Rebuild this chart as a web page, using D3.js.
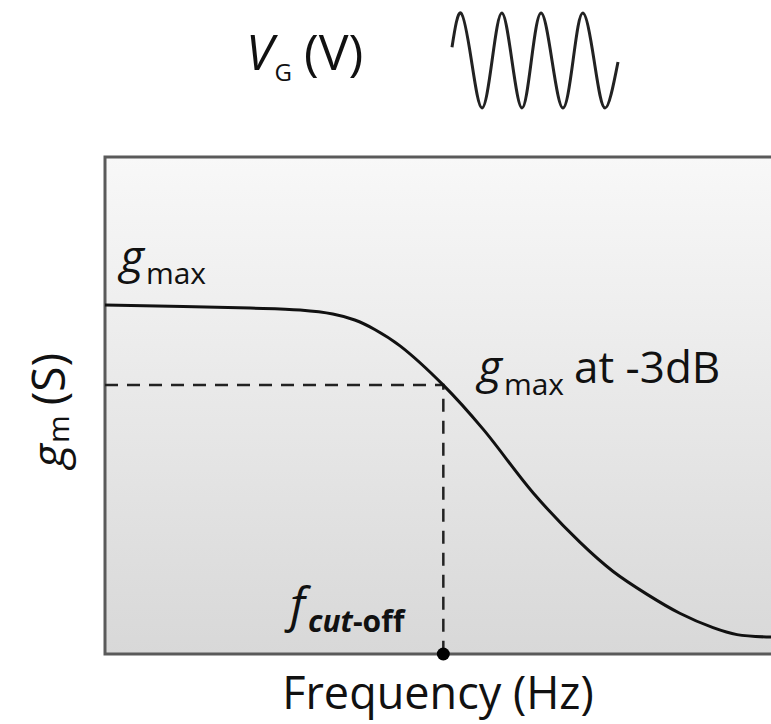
<!DOCTYPE html>
<html>
<head>
<meta charset="utf-8">
<script src="https://cdn.jsdelivr.net/npm/d3@7"></script>
<style>
  html, body { margin: 0; padding: 0; background: #fff; }
  svg { display: block; font-family: "Open Sans", "Noto Sans", sans-serif; }
</style>
</head>
<body>
<svg id="chart" width="771" height="724"></svg>
<script>
// ---- data (arbitrary units 0..100) ----
const freq = [0, 21.8, 29.3, 34.2, 37.5, 40.5, 44.3, 50.8, 56.8, 64.3, 71.3, 76.3, 81.4, 86.3, 91.3, 94.9, 100];
const gm   = [70.2, 69.6, 69.2, 68.4, 67.2, 65.3, 62.0, 54.1, 45.2, 32.4, 22.5, 16.6, 12.0, 8.2, 5.3, 3.9, 3.4];
const fCutoff = 50.8;
const gm3dB = 54.1;
// gate voltage sinusoid icon (periods, normalized amplitude)
const waveT = [0, 0.22, 0.48, 0.74, 0.99, 1.23, 1.48, 1.73, 1.96, 2.2, 2.47, 2.74, 2.99, 3.23, 3.51, 3.78, 4.1];
const waveV = [0.28, 1, 0, -1, 0, 1, 0, -1, 0, 1, 0, -1, 0, 1, 0, -1, -0.03];

const svg = d3.select("#chart");
const L = 105, R = 771, T = 157, B = 654;

const x = d3.scaleLinear().domain([0, 100]).range([L, R]);
const y = d3.scaleLinear().domain([0, 100]).range([B, T]);

// background gradient
const defs = svg.append("defs");
const grad = defs.append("linearGradient").attr("id", "bg").attr("x1", 0).attr("y1", 0).attr("x2", 0).attr("y2", 1);
grad.append("stop").attr("offset", "0%").attr("stop-color", "#f8f8f8");
grad.append("stop").attr("offset", "100%").attr("stop-color", "#d8d8d8");

svg.append("rect").attr("x", L).attr("y", T).attr("width", R - L).attr("height", B - T).attr("fill", "url(#bg)");

// frame (top, left, bottom)
svg.append("path")
  .attr("d", `M${R},${T}H${L}V${B}H${R}`)
  .attr("fill", "none").attr("stroke", "#5a5a5a").attr("stroke-width", 3);

// dashed guides
svg.append("path")
  .attr("d", `M${x(0)},${y(gm3dB)}H${x(fCutoff)}V${y(0)}`)
  .attr("fill", "none").attr("stroke", "#222").attr("stroke-width", 2.5)
  .attr("stroke-dasharray", "13,9");

// response curve
const line = d3.line().x((d, i) => x(freq[i])).y((d, i) => y(gm[i])).curve(d3.curveCatmullRom.alpha(0.5));
svg.append("path").datum(freq).attr("d", line)
  .attr("fill", "none").attr("stroke", "#111").attr("stroke-width", 3);

// cutoff dot
svg.append("circle").attr("cx", x(fCutoff)).attr("cy", y(0)).attr("r", 6.5).attr("fill", "#000");

// sine icon
const tx = d3.scaleLinear().domain([0, 4.1]).range([452, 618]);
const vy = d3.scaleLinear().domain([-1, 1]).range([108, 13]);
const wline = d3.line().x((d, i) => tx(waveT[i])).y((d, i) => vy(waveV[i])).curve(d3.curveNatural);
svg.append("path").datum(waveT).attr("d", wline)
  .attr("fill", "none").attr("stroke", "#222").attr("stroke-width", 3);

// ---- texts ----
const fill = "#111";
// V_G (V)
const tv = svg.append("text").attr("x", 246).attr("y", 70).attr("fill", fill).attr("font-size", 50);
tv.append("tspan").attr("font-style", "italic").text("V");
tv.append("tspan").attr("font-size", 24).attr("dy", 11).attr("dx", 1).text("G");
tv.append("tspan").attr("dy", -11).attr("dx", 12).text("(V)");

// g_max (top-left)
const tg = svg.append("text").attr("x", 120).attr("y", 273).attr("fill", fill).attr("font-size", 46);
tg.append("tspan").attr("font-style", "italic").text("g");
tg.append("tspan").attr("font-size", 30).attr("dy", 11).attr("dx", 2).text("max");

// g_max at -3dB
const tg2 = svg.append("text").attr("x", 478).attr("y", 383).attr("fill", fill).attr("font-size", 46);
tg2.append("tspan").attr("font-style", "italic").text("g");
tg2.append("tspan").attr("font-size", 30).attr("dy", 12).attr("dx", 2).text("max");
tg2.append("tspan").attr("font-size", 44).attr("dy", -12).attr("dx", 10).text("at -3dB");

// f_cut-off
const tf = svg.append("text").attr("x", 290).attr("y", 622).attr("fill", fill).attr("font-size", 48);
tf.append("tspan").attr("font-style", "italic").text("f");
tf.append("tspan").attr("font-size", 30).attr("font-weight", "bold").attr("font-style", "italic").attr("dy", 10).attr("dx", 3).text("cut");
tf.append("tspan").attr("font-size", 30).attr("font-weight", "bold").text("-off");

// x-axis title
svg.append("text").attr("x", 438).attr("y", 709).attr("text-anchor", "middle")
  .attr("fill", fill).attr("font-size", 45).text("Frequency (Hz)");

// y-axis title g_m (S)
const ty = svg.append("text").attr("transform", "translate(65,468) rotate(-90)")
  .attr("fill", fill).attr("font-size", 46);
ty.append("tspan").attr("font-style", "italic").text("g");
ty.append("tspan").attr("font-size", 30).attr("dy", 4).attr("dx", 1).text("m");
ty.append("tspan").attr("dy", -4).attr("dx", 10).text("(S)");
</script>
</body>
</html>
